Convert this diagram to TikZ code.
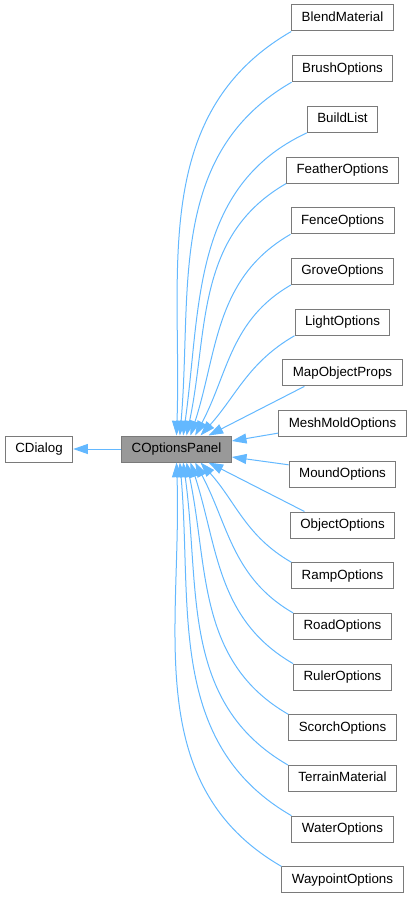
\documentclass[tikz,border=0pt]{standalone}
\usepackage{fontspec}
\setmainfont{Liberation Sans}
\usetikzlibrary{arrows.meta}
\definecolor{graphEdge}{HTML}{63B8FF}
\definecolor{graphBorder}{HTML}{7A7A7A}
\definecolor{graphFocus}{HTML}{999999}

\begin{document}
\begin{tikzpicture}[
  x=0.75pt, y=0.75pt,
  font=\fontsize{10}{12}\selectfont,
  cls/.style={draw=graphBorder, line width=0.75pt, fill=white, minimum height=19.5pt,
              inner xsep=7.5pt, inner ysep=0pt, text height=7.3pt, text depth=2.1pt},
  focus/.style={cls, fill=graphFocus},
  a/.style={-{Triangle[length=11pt, width=7.5pt]}, draw=graphEdge, line width=0.75pt}
]
\useasboundingbox (0,0) rectangle (411,-899);

\node[cls] (dialog) at (39,-449) {CDialog};
\node[focus] (panel) at (176.5,-449) {COptionsPanel};

\node[cls] (blend)   at (342.5,-18.0)  {BlendMaterial};
\node[cls] (brush)   at (342.5,-68.7)  {BrushOptions};
\node[cls] (build)   at (342.5,-119.4) {BuildList};
\node[cls] (feather) at (342.5,-170.1) {FeatherOptions};
\node[cls] (fence)   at (342.5,-220.8) {FenceOptions};
\node[cls] (grove)   at (342.5,-271.5) {GroveOptions};
\node[cls] (light)   at (342.5,-322.2) {LightOptions};
\node[cls] (mapobj)  at (342.5,-372.9) {MapObjectProps};
\node[cls] (meshmold) at (342.5,-423.6) {MeshMoldOptions};
\node[cls] (mound)   at (342.5,-474.3) {MoundOptions};
\node[cls] (object)  at (342.5,-525.0) {ObjectOptions};
\node[cls] (ramp)    at (342.5,-575.7) {RampOptions};
\node[cls] (road)    at (342.5,-626.4) {RoadOptions};
\node[cls] (ruler)   at (342.5,-677.1) {RulerOptions};
\node[cls] (scorch)  at (342.5,-727.8) {ScorchOptions};
\node[cls] (terrain) at (342.5,-778.5) {TerrainMaterial};
\node[cls] (water)   at (342.5,-829.2) {WaterOptions};
\node[cls] (waypoint) at (342.5,-879.9) {WaypointOptions};

\draw[a] (panel) -- (dialog);

% children above the panel
\draw[a] (blend.south west)   to[out=210, in=88] ([xshift=0pt]panel.north);
\draw[a] (brush.south west)   to[out=210, in=85] ([xshift=2.5pt]panel.north);
\draw[a] (build.south west)   to[out=205, in=82] ([xshift=5pt]panel.north);
\draw[a] (feather.south west) to[out=210, in=78] ([xshift=7.5pt]panel.north);
\draw[a] (fence.south west)   to[out=210, in=72] ([xshift=10.5pt]panel.north);
\draw[a] (grove.south west)   to[out=210, in=62] ([xshift=14pt]panel.north);
\draw[a] (light.south west)   to[out=210, in=48] ([xshift=18pt]panel.north);
\draw[a] ([xshift=16.5pt]mapobj.south west) -- ([xshift=24pt]panel.north);
\draw[a] ([yshift=3pt]meshmold.south west) -- ([yshift=6pt]panel.east);

% children below the panel
\draw[a] ([yshift=-3pt]mound.north west) -- ([yshift=-6pt]panel.east);
\draw[a] ([xshift=11pt]object.north west) -- ([xshift=24pt]panel.south);
\draw[a] (ramp.north west)     to[out=150, in=-48] ([xshift=18pt]panel.south);
\draw[a] (road.north west)     to[out=150, in=-62] ([xshift=14pt]panel.south);
\draw[a] (ruler.north west)    to[out=150, in=-72] ([xshift=10.5pt]panel.south);
\draw[a] (scorch.north west)   to[out=150, in=-78] ([xshift=7.5pt]panel.south);
\draw[a] (terrain.north west)  to[out=150, in=-82] ([xshift=5pt]panel.south);
\draw[a] (water.north west)    to[out=150, in=-85] ([xshift=2.5pt]panel.south);
\draw[a] (waypoint.north west) to[out=150, in=-88] ([xshift=0pt]panel.south);
\end{tikzpicture}
\end{document}
